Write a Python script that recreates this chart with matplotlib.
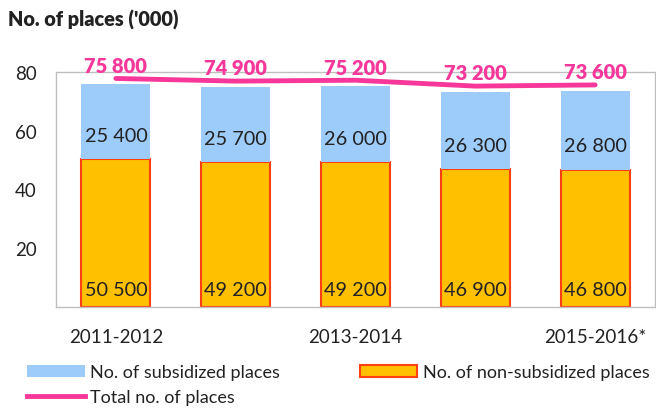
import matplotlib
matplotlib.use("Agg")
import matplotlib.pyplot as plt
from matplotlib.patches import Patch
from matplotlib.lines import Line2D

plt.rcParams['font.family'] = ['Lato', 'DejaVu Sans']

categories = ['2011-2012', '2012-2013', '2013-2014', '2014-2015', '2015-2016*']
shown_labels = ['2011-2012', '', '2013-2014', '', '2015-2016*']
non_subsidized = [50.5, 49.2, 49.2, 46.9, 46.8]
subsidized = [25.4, 25.7, 26.0, 26.3, 26.8]
total = [75.8, 74.9, 75.2, 73.2, 73.6]

c_blue = '#9DCBFA'
c_orange = '#FFC000'
c_edge = '#FF4010'
c_pink = '#F7379A'
c_text = '#222222'

fig = plt.figure(figsize=(6.56, 4.10), dpi=100)
ax = fig.add_axes([56/656, (410-308)/410, (655-56)/656, (308-73)/410])
x = list(range(len(categories)))
w = 0.575

ax.bar(x, non_subsidized, width=w, color=c_orange, edgecolor=c_edge, linewidth=1.5, zorder=2)
ax.bar(x, subsidized, width=w, bottom=non_subsidized, color=c_blue, edgecolor='none', zorder=2)

for xi, ns, s in zip(x, non_subsidized, subsidized):
    ax.annotate(f"{int(round(ns*1000)):,}".replace(',', ' '), (xi, 0), xytext=(0, 12.5),
                textcoords='offset points', ha='center', va='center', fontsize=14.3, color=c_text)
    ax.annotate(f"{int(round(s*1000)):,}".replace(',', ' '), (xi, ns), xytext=(0, 17),
                textcoords='offset points', ha='center', va='center', fontsize=14.3, color=c_text)

ax.set_xlim(-0.5, 4.5)
ax.set_ylim(0, 80)
ax.set_yticks([20, 40, 60, 80])
ax.set_xticks(x)
ax.set_xticklabels(shown_labels)
ax.tick_params(axis='both', length=0, labelsize=13.5, colors=c_text)
ax.tick_params(axis='y', pad=13.7)
ax.tick_params(axis='x', pad=15)
for sp in ax.spines.values():
    sp.set_color('#BFBFBF')
    sp.set_linewidth(1)

ax2 = ax.twinx()
ax2.set_ylim(-2, 78)
ax2.plot(x, total, color=c_pink, linewidth=3.5, solid_capstyle='round', zorder=3)
ax2.set_yticks([])
for sp in ax2.spines.values():
    sp.set_visible(False)
for xi, t in zip(x, total):
    ax2.annotate(f"{int(round(t*1000)):,}".replace(',', ' '), (xi, t), xytext=(0, 9.5),
                 textcoords='offset points', ha='center', va='center', fontsize=14.5,
                 fontweight='heavy', color=c_pink)

fig.text(8/656, 1 - 20/410, "No. of places ('000)", fontsize=14.3, fontweight='heavy',
         color=c_text, ha='left', va='center')

handles = [Patch(facecolor=c_blue, edgecolor='none'),
           Line2D([], [], color=c_pink, linewidth=3.5),
           Patch(facecolor=c_orange, edgecolor=c_edge, linewidth=1.5)]
labels = ['No. of subsidized places', 'Total no. of places', 'No. of non-subsidized places']
fig.legend(handles, labels, ncol=2, loc='upper left', bbox_to_anchor=(18/656, 1 - 356/410),
           frameon=False, fontsize=13, handlelength=3.2, handleheight=0.62,
           handletextpad=0.3, columnspacing=4.4, labelspacing=0.5, borderpad=0,
           labelcolor=c_text)

fig.savefig('out.png', dpi=100)
